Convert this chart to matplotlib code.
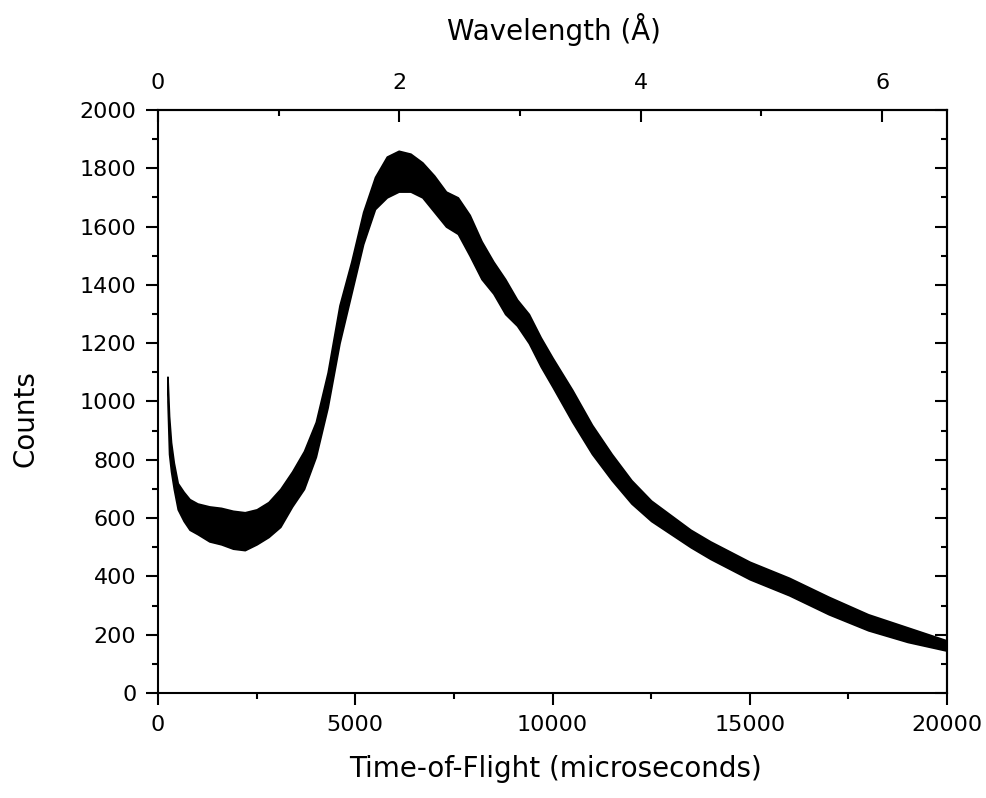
import matplotlib
matplotlib.use("Agg")
import matplotlib.pyplot as plt
from matplotlib.ticker import MultipleLocator, FixedLocator

# counts band (upper / lower edge of the noisy trace)
tof = [240, 280, 330, 400, 500, 650, 800, 1000, 1300, 1600, 1900, 2200, 2500,
       2800, 3100, 3400, 3700, 4000, 4300, 4600, 4900, 5200, 5500, 5800, 6100,
       6400, 6700, 7000, 7300, 7600, 7900, 8200, 8500, 8800, 9100, 9400, 9700,
       10000, 10500, 11000, 11500, 12000, 12500, 13000, 13500, 14000, 15000,
       16000, 17000, 18000, 19000, 20000]
upper = [1085, 950, 860, 790, 720, 690, 665, 650, 640, 635, 625, 620, 630,
         655, 700, 760, 830, 930, 1100, 1330, 1480, 1650, 1770, 1840, 1860,
         1850, 1820, 1775, 1720, 1700, 1640, 1550, 1480, 1420, 1350, 1300, 1220,
         1150, 1040, 920, 820, 730, 660, 610, 560, 520, 450,
         395, 330, 270, 225, 180]
lower = [1000, 820, 760, 700, 630, 590, 560, 545, 520, 510, 495, 490, 510,
         535, 570, 640, 700, 810, 980, 1200, 1370, 1540, 1660, 1700, 1720,
         1720, 1700, 1650, 1600, 1575, 1500, 1420, 1370, 1300, 1260, 1200, 1120,
         1050, 930, 820, 730, 650, 590, 545, 500, 460, 390,
         335, 270, 215, 175, 145]

wl_major = [0, 2, 4, 6]
wl_minor = [1, 3, 5]
tof_per_angstrom = 3059.0

fig = plt.figure(figsize=(9.87, 7.98), dpi=100)
ax = fig.add_axes([0.1601, 0.1316, 0.7994, 0.7306])

ax.fill_between(tof, lower, upper, color="black", linewidth=1.2)

ax.set_xlim(0, 20000)
ax.set_ylim(0, 2000)
ax.xaxis.set_major_locator(MultipleLocator(5000))
ax.xaxis.set_minor_locator(MultipleLocator(2500))
ax.yaxis.set_major_locator(MultipleLocator(200))
ax.yaxis.set_minor_locator(MultipleLocator(100))

for s in ax.spines.values():
    s.set_linewidth(1.5)

ax.tick_params(axis="both", which="major", direction="out", length=8.6,
               width=1.5, labelsize=16, pad=7)
ax.tick_params(axis="both", which="minor", direction="out", length=4.3, width=1.5)

# right side: inward ticks, no labels
axr = ax.secondary_yaxis("right")
axr.yaxis.set_major_locator(MultipleLocator(200))
axr.yaxis.set_minor_locator(MultipleLocator(100))
axr.tick_params(which="major", direction="in", length=8.6, width=1.5, labelright=False)
axr.tick_params(which="minor", direction="in", length=4.3, width=1.5)
axr.spines["right"].set_linewidth(1.5)

# top: wavelength axis
axt = ax.secondary_xaxis("top", functions=(lambda t: t / tof_per_angstrom,
                                           lambda w: w * tof_per_angstrom))
axt.xaxis.set_major_locator(FixedLocator(wl_major))
axt.xaxis.set_minor_locator(FixedLocator(wl_minor))
axt.tick_params(which="major", direction="in", length=8.6, width=1.5,
                labelsize=16, pad=12)
axt.tick_params(which="minor", direction="in", length=4.3, width=1.5)
axt.spines["top"].set_linewidth(1.5)

fig.text(0.563, 0.036, "Time-of-Flight (microseconds)", ha="center", va="center",
         fontsize=20)
fig.text(0.561, 0.963, "Wavelength (Å)", ha="center", va="center", fontsize=20)
fig.text(0.026, 0.476, "Counts", ha="center", va="center", rotation=90, fontsize=20)

fig.savefig("out.png", dpi=100)
